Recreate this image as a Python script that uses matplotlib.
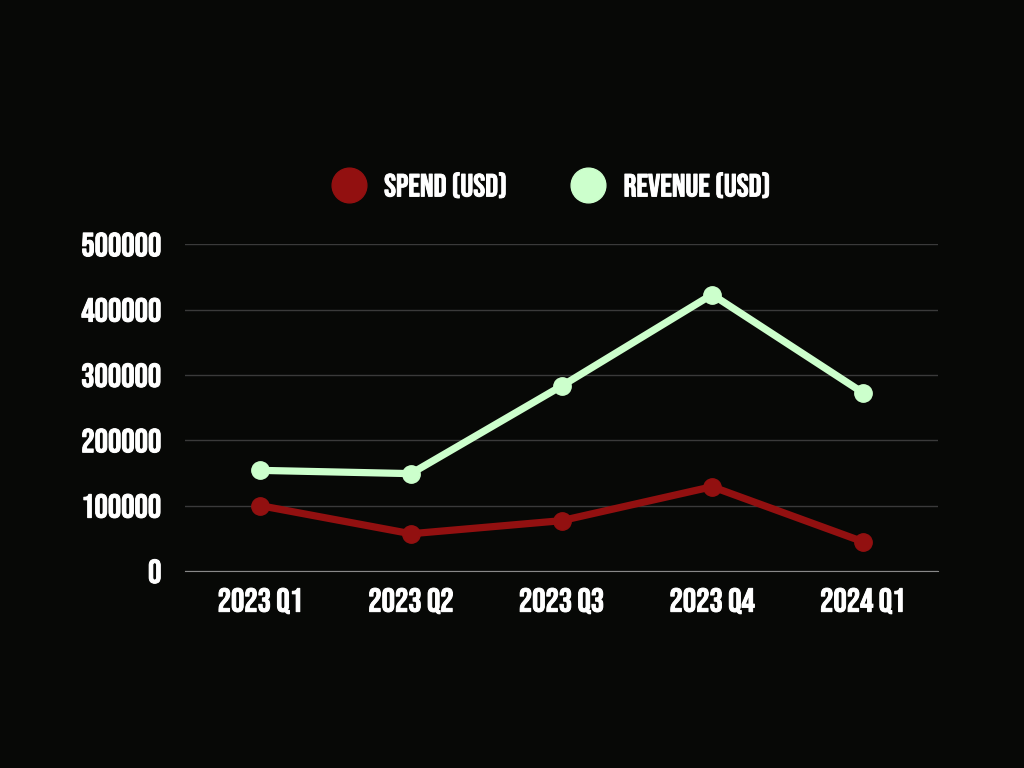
import matplotlib.pyplot as plt
import matplotlib.patheffects as pe
import numpy as np

quarters = ['2023 Q1', '2023 Q2', '2023 Q3', '2023 Q4', '2024 Q1']
spend = [100000, 57000, 77000, 129000, 45000]
revenue = [154000, 149000, 283000, 423000, 273000]

fams = ['Bebas Neue', 'Oswald', 'DejaVu Sans']
plt.rcParams['font.family'] = fams

bg = '#070806'
red = '#921010'
green = '#ccffcc'

fig = plt.figure(figsize=(10.24, 7.68), dpi=100, facecolor=bg)
ax = fig.add_axes([0.1807, 0.2565, 0.7353, 0.4255], facecolor=bg)

x = np.arange(len(quarters))
ax.plot(x, spend, color=red, lw=5.2, marker='o', ms=12.5, label='SPEND (USD)', zorder=3)
ax.plot(x, revenue, color=green, lw=5.2, marker='o', ms=12.5, label='REVENUE (USD)', zorder=3)

ax.set_xlim(-0.5, 4.5)
ax.set_ylim(0, 500000)
ax.set_yticks(np.arange(0, 500001, 100000))
ax.set_yticklabels([str(v) for v in range(0, 500001, 100000)])
ax.set_xticks(x)
ax.set_xticklabels(quarters)
ax.yaxis.grid(True, color='#3a3a3a', lw=1)
ax.set_axisbelow(True)
for s in ['top', 'right', 'left']:
    ax.spines[s].set_visible(False)
ax.spines['bottom'].set_color('#888888')
ax.tick_params(axis='both', length=0, colors='white', labelsize=24)
ax.tick_params(axis='y', pad=17)
ax.tick_params(axis='x', pad=12)

leg = ax.legend(loc='center', bbox_to_anchor=(0.487, 1.18), ncol=2, frameon=False,
                markerscale=2, handlelength=1.0, handletextpad=0.6, columnspacing=2.05,
                prop={'family': fams, 'size': 23})
for h in leg.get_lines():
    h.set_linestyle('none')
for t in leg.get_texts():
    t.set_color('white')

# slightly heavier text, like the reference
bold = [pe.withStroke(linewidth=0.7, foreground='white')]
for t in ax.get_xticklabels() + ax.get_yticklabels() + leg.get_texts():
    t.set_path_effects(bold)

fig.savefig('out.png', dpi=100, facecolor=bg)
